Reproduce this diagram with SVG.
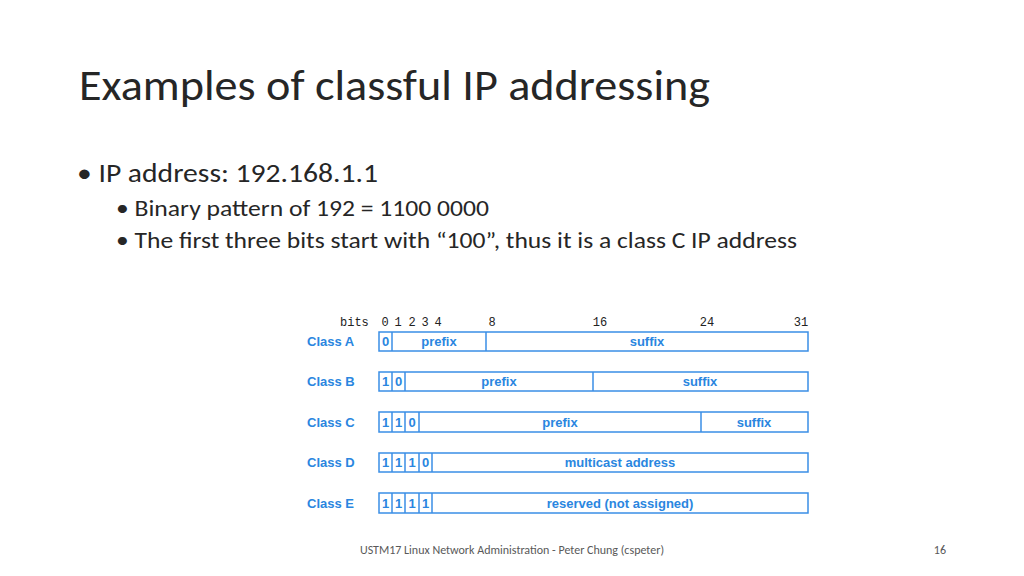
<svg xmlns="http://www.w3.org/2000/svg" width="1024" height="576" viewBox="0 0 1024 576">
<style>
.t{font-family:Calibri,Carlito,"Liberation Sans",sans-serif;fill:#262626}
.b{fill:#fff;stroke:#3a8ee6;stroke-width:1.5}
.l{stroke:#3a8ee6;stroke-width:1.5}
.c{font-family:"Liberation Sans",Arial,sans-serif;font-weight:bold;font-size:13px;fill:#2a86e0}
.m{text-anchor:middle}
.bits{font-family:"Liberation Mono",monospace;font-size:12px;fill:#222}
</style>
<rect width="1024" height="576" fill="#fff"/>
<text class="t" x="79" y="100" font-size="44" textLength="631" lengthAdjust="spacingAndGlyphs">Examples of classful IP addressing</text>
<text class="t" x="77" y="182" font-size="27" textLength="301" lengthAdjust="spacingAndGlyphs">• IP address: 192.168.1.1</text>
<text class="t" x="116" y="216" font-size="23" textLength="373" lengthAdjust="spacingAndGlyphs">• Binary pattern of 192 = 1100 0000</text>
<text class="t" x="116" y="248" font-size="23" textLength="681" lengthAdjust="spacingAndGlyphs">• The first three bits start with “100”, thus it is a class C IP address</text>
<g id="bits">
<text class="bits" x="340" y="326">bits</text>
<text class="bits m" x="385" y="326">0</text><text class="bits m" x="398" y="326">1</text><text class="bits m" x="412" y="326">2</text><text class="bits m" x="425" y="326">3</text><text class="bits m" x="438" y="326">4</text>
<text class="bits m" x="492" y="326">8</text><text class="bits m" x="600" y="326">16</text><text class="bits m" x="707" y="326">24</text><text class="bits m" x="801" y="326">31</text>
</g>
<g id="classA"><text class="c" x="307" y="346">Class A</text><rect class="b" x="379" y="332" width="429" height="19"/>
<line class="l" x1="392" y1="332" x2="392" y2="351"/><line class="l" x1="486" y1="332" x2="486" y2="351"/>
<text class="c m" x="385.5" y="346">0</text><text class="c m" x="439" y="346">prefix</text><text class="c m" x="647" y="346">suffix</text></g>
<g id="classB"><text class="c" x="307" y="386">Class B</text><rect class="b" x="379" y="372" width="429" height="19"/>
<line class="l" x1="392" y1="372" x2="392" y2="391"/><line class="l" x1="405" y1="372" x2="405" y2="391"/><line class="l" x1="593" y1="372" x2="593" y2="391"/>
<text class="c m" x="385.5" y="386">1</text><text class="c m" x="398.5" y="386">0</text><text class="c m" x="499" y="386">prefix</text><text class="c m" x="700" y="386">suffix</text></g>
<g id="classC"><text class="c" x="307" y="427">Class C</text><rect class="b" x="379" y="412" width="429" height="20"/>
<line class="l" x1="392" y1="412" x2="392" y2="432"/><line class="l" x1="405" y1="412" x2="405" y2="432"/><line class="l" x1="419" y1="412" x2="419" y2="432"/><line class="l" x1="701" y1="412" x2="701" y2="432"/>
<text class="c m" x="385.5" y="427">1</text><text class="c m" x="398.5" y="427">1</text><text class="c m" x="412" y="427">0</text><text class="c m" x="560" y="427">prefix</text><text class="c m" x="754" y="427">suffix</text></g>
<g id="classD"><text class="c" x="307" y="467">Class D</text><rect class="b" x="379" y="453" width="429" height="19"/>
<line class="l" x1="392" y1="453" x2="392" y2="472"/><line class="l" x1="405" y1="453" x2="405" y2="472"/><line class="l" x1="419" y1="453" x2="419" y2="472"/><line class="l" x1="432" y1="453" x2="432" y2="472"/>
<text class="c m" x="385.5" y="467">1</text><text class="c m" x="398.5" y="467">1</text><text class="c m" x="412" y="467">1</text><text class="c m" x="425.5" y="467">0</text><text class="c m" x="620" y="467">multicast address</text></g>
<g id="classE"><text class="c" x="307" y="508">Class E</text><rect class="b" x="379" y="493" width="429" height="20"/>
<line class="l" x1="392" y1="493" x2="392" y2="513"/><line class="l" x1="405" y1="493" x2="405" y2="513"/><line class="l" x1="419" y1="493" x2="419" y2="513"/><line class="l" x1="432" y1="493" x2="432" y2="513"/>
<text class="c m" x="385.5" y="508">1</text><text class="c m" x="398.5" y="508">1</text><text class="c m" x="412" y="508">1</text><text class="c m" x="425.5" y="508">1</text><text class="c m" x="620" y="508">reserved (not assigned)</text></g>
<g id="connectors"/>
<text class="t" x="512" y="554" font-size="12" text-anchor="middle" style="fill:#595959">USTM17 Linux Network Administration - Peter Chung (cspeter)</text>
<text class="t" x="946" y="554" font-size="12" text-anchor="end" style="fill:#595959">16</text>
</svg>
